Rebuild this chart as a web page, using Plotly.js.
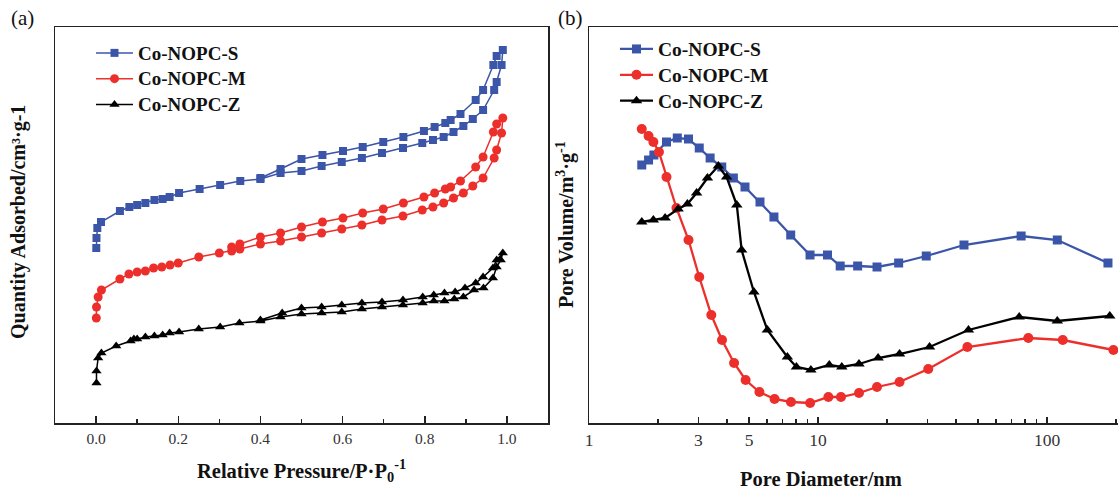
<!DOCTYPE html>
<html>
<head>
<meta charset="utf-8">
<script src="https://cdn.plot.ly/plotly-3.0.1.min.js"></script>
<style>
html,body{margin:0;padding:0;background:#fff;overflow:hidden;}
#chart{width:1118px;height:490px;}
</style>
</head>
<body>
<div id="chart"></div>
<script>
// ---------- Panel (a): N2 isotherms (arbitrary quantity units) ----------
const seriesNames = ['Co-NOPC-S', 'Co-NOPC-M', 'Co-NOPC-Z'];

const pS_ads = [0.0005,0.001,0.003,0.012,0.058,0.081,0.1,0.12,0.142,0.162,0.179,0.202,0.252,0.302,0.351,0.4,0.449,0.5,0.549,0.598,0.647,0.696,0.747,0.794,0.82,0.846,0.87,0.894,0.917,0.942,0.969,0.975,0.987,0.99];
const qS_ads = [175,185,195,201,212,216,218,220,223,224,226,230,234,238,242,244,250,252,257,261,265,270,275,280,283,286,291,297,304,313,333,341,358,373];
const pS_des = [0.975,0.967,0.942,0.924,0.887,0.863,0.85,0.824,0.798,0.748,0.699,0.649,0.601,0.551,0.5,0.449,0.4];
const qS_des = [367,358,333,323,309,303,300,296,292,286,281,276,272,268,264,254,245];

const pM_ads = [0.0005,0.001,0.005,0.013,0.058,0.08,0.1,0.12,0.14,0.16,0.18,0.2,0.25,0.3,0.33,0.35,0.4,0.449,0.5,0.549,0.598,0.647,0.696,0.747,0.794,0.82,0.846,0.87,0.894,0.917,0.942,0.969,0.975,0.987,0.99];
const qM_ads = [105,116,126,133,144,149,151,152,155,156,158,160,166,170,172,174,179,182,186,190,194,198,203,207,213,216,220,225,230,237,245,265,273,290,305];
const pM_des = [0.975,0.967,0.942,0.924,0.887,0.863,0.85,0.824,0.798,0.748,0.699,0.649,0.601,0.551,0.5,0.449,0.4,0.35,0.33];
const qM_des = [299,291,266,256,242,236,234,230,226,220,214,210,205,201,196,190,186,179,176];

const pZ_ads = [0.001,0.001,0.005,0.013,0.049,0.084,0.092,0.1,0.12,0.142,0.162,0.179,0.202,0.25,0.302,0.349,0.4,0.449,0.5,0.549,0.598,0.647,0.696,0.747,0.795,0.822,0.848,0.872,0.894,0.92,0.943,0.966,0.975,0.985,0.99];
const qZ_ads = [40,52,65,70,77,82,84,84,86,87,88,90,91,94,96,100,102,106,109,110,111,114,116,118,120,122,122,124,126,133,135,145,156,163,170];
const pZ_des = [0.975,0.966,0.942,0.924,0.898,0.874,0.848,0.822,0.795,0.747,0.696,0.647,0.598,0.549,0.5,0.453,0.4];
const qZ_des = [163,155,146,140,135,131,130,128,126,123,121,120,118,116,115,110,103];

// ---------- Panel (b): pore size distributions (arbitrary volume units) ----------
const dS = [1.70,1.82,1.92,2.18,2.43,2.72,3.03,3.38,3.80,4.27,4.80,5.58,6.42,7.60,9.23,11.0,12.5,14.9,18.1,22.5,29.7,43.4,77.1,110.9,184.6];
const vS = [258,263,268,281,285,284,275,265,256,245,236,221,206,188,168,168,157,157,156,160,167,178,187,183,160];

const dM = [1.70,1.82,1.91,2.02,2.18,2.41,2.72,3.03,3.42,3.81,4.30,4.83,5.55,6.46,7.62,9.24,11.1,12.6,15.1,18.1,22.7,30.3,44.9,82.9,117.2,195];
const vM = [294,287,281,271,246,215,183,146,108,83,60,43,31,24,21,20,26,26,30,36,41,54,76,85,83,73];

const dZ = [1.70,1.91,2.15,2.45,2.69,2.95,3.29,3.67,3.99,4.42,4.64,5.25,6.01,7.35,8.05,9.31,11.2,12.7,15.1,18.3,22.7,30.7,45.4,75.6,110.9,188];
const vZ = [201,203,205,214,219,230,245,257,246,218,173,131,93,66,56,53,58,56,59,65,69,76,93,106,102,107];

const xTickValsA = [0,0.2,0.4,0.6,0.8,1.0];
const xTickTextA = ['0.0','0.2','0.4','0.6','0.8','1.0'];
const xTickValsB = [1,3,5,10,100];
const xTickTextB = ['1','3','5','10','100'];

const colors = ['#3B55A8', '#EC2F2B', '#000000'];
const serif = '"Liberation Serif", "Times New Roman", serif';

function loop(pa, qa, pd, qd) {
  return {x: pa.concat(pd), y: qa.concat(qd)};
}
const loops = [loop(pS_ads,qS_ads,pS_des,qS_des), loop(pM_ads,qM_ads,pM_des,qM_des), loop(pZ_ads,qZ_ads,pZ_des,qZ_des)];
const symbols = ['square','circle','triangle-up'];
const sizesA = [8,9,9];
const sizesB = [9,10,10];
const psd = [[dS,vS],[dM,vM],[dZ,vZ]];

function legName(n, px) { return '<span style="font-size:' + px + 'px">' + n + '</span>'; }

const traces = [];
for (let i = 0; i < 3; i++) {
  traces.push({
    x: loops[i].x, y: loops[i].y, xaxis: 'x', yaxis: 'y',
    type: 'scatter', mode: 'lines+markers', name: legName(seriesNames[i], 19), legend: 'legend',
    line: {color: colors[i], width: 1.5},
    marker: {symbol: symbols[i], size: sizesA[i], color: colors[i], line: {width: 0}}
  });
}
for (let i = 0; i < 3; i++) {
  traces.push({
    x: psd[i][0], y: psd[i][1], xaxis: 'x2', yaxis: 'y2',
    type: 'scatter', mode: 'lines+markers', name: legName(seriesNames[i], 19.5), legend: 'legend2',
    line: {color: colors[i], width: 2.3},
    marker: {symbol: symbols[i], size: sizesB[i], color: colors[i], line: {width: 0}}
  });
}

const W = 1118, H = 490;
const yDom = [(H-423)/H, (H-27)/H];
const axLine = {showline: true, linecolor: '#222', linewidth: 1.5, showgrid: false, zeroline: false};
const tickFontA = {family: serif, size: 15.5, color: '#333'};
const tickFontB = {family: serif, size: 17.5, color: '#333'};
const titleFont = {family: serif, size: 20.5, color: '#111', weight: 'bold'};
const yTitleFont = {family: serif, size: 20, color: '#111', weight: 'bold'};

const layout = {
  width: W, height: H,
  margin: {l: 0, r: 0, t: 0, b: 0},
  paper_bgcolor: '#fff', plot_bgcolor: '#fff',
  showlegend: true,
  xaxis: Object.assign({}, axLine, {
    domain: [55/W, 548/W], range: [-0.1, 1.1], anchor: 'y', mirror: true,
    tickmode: 'array', tickvals: xTickValsA, ticktext: xTickTextA,
    ticks: 'inside', ticklen: 7, tickwidth: 1.5, tickcolor: '#222', tickfont: tickFontA, ticklabelstandoff: 1,
    minor: {tickmode: 'array', tickvals: [0.1,0.3,0.5,0.7,0.9], ticks: 'inside', ticklen: 4, tickwidth: 1.5, tickcolor: '#222'}
  }),
  yaxis: Object.assign({}, axLine, {
    domain: yDom, range: [0, 396], anchor: 'x', mirror: true, ticks: '', showticklabels: false
  }),
  xaxis2: Object.assign({}, axLine, {
    domain: [589/W, 1], type: 'log', range: [0, (W-589)/229], anchor: 'y2', mirror: true,
    tickmode: 'array', tickvals: xTickValsB, ticktext: xTickTextB,
    ticks: 'inside', ticklen: 6, tickwidth: 1.5, tickcolor: '#222', tickfont: tickFontB, ticklabelstandoff: 0,
    minor: {tickmode: 'array', tickvals: [2,4,6,7,8,9,20,30,40,50,60,70,80,90,200], ticks: 'inside', ticklen: 4, tickwidth: 1.5, tickcolor: '#222'}
  }),
  yaxis2: Object.assign({}, axLine, {
    domain: yDom, range: [0, 396], anchor: 'x2', mirror: false, ticks: '', showticklabels: false
  }),
  legend: {
    x: 91/W, y: 1 - 35/H, xanchor: 'left', yanchor: 'top', bgcolor: 'rgba(0,0,0,0)',
    font: {family: serif, size: 17.5, color: '#111', weight: 'bold'}, itemwidth: 37, tracegroupgap: 0
  },
  legend2: {
    x: 615/W, y: 1 - 31/H, xanchor: 'left', yanchor: 'top', bgcolor: 'rgba(0,0,0,0)',
    font: {family: serif, size: 17.6, color: '#111', weight: 'bold'}, itemwidth: 33, tracegroupgap: 0
  },
  annotations: [
    {text: '(a)', x: 22/W, y: 1 - 18/H, xref: 'paper', yref: 'paper', showarrow: false, xanchor: 'center', yanchor: 'middle', font: {family: serif, size: 21, color: '#111'}},
    {text: '(b)', x: 570/W, y: 1 - 18/H, xref: 'paper', yref: 'paper', showarrow: false, xanchor: 'center', yanchor: 'middle', font: {family: serif, size: 21, color: '#111'}},
    {text: 'Quantity Adsorbed/cm³·g-1', x: 18/W, y: 1 - 222/H, xref: 'paper', yref: 'paper', showarrow: false, textangle: -90, xanchor: 'center', yanchor: 'middle', font: yTitleFont},
    {text: 'Pore Volume/m<sup>3</sup>·g<sup>-1</sup>', x: 566/W, y: 1 - 225/H, xref: 'paper', yref: 'paper', showarrow: false, textangle: -90, xanchor: 'center', yanchor: 'middle', font: yTitleFont},
    {text: 'Relative Pressure/P·P<sub>0</sub><sup>-1</sup>', x: 301/W, y: 1 - 470/H, xref: 'paper', yref: 'paper', showarrow: false, xanchor: 'center', yanchor: 'middle', font: titleFont},
    {text: 'Pore Diameter/nm', x: 821/W, y: 1 - 479/H, xref: 'paper', yref: 'paper', showarrow: false, xanchor: 'center', yanchor: 'middle', font: titleFont}
  ]
};

Plotly.newPlot('chart', traces, layout, {staticPlot: true, displayModeBar: false});
</script>
</body>
</html>
